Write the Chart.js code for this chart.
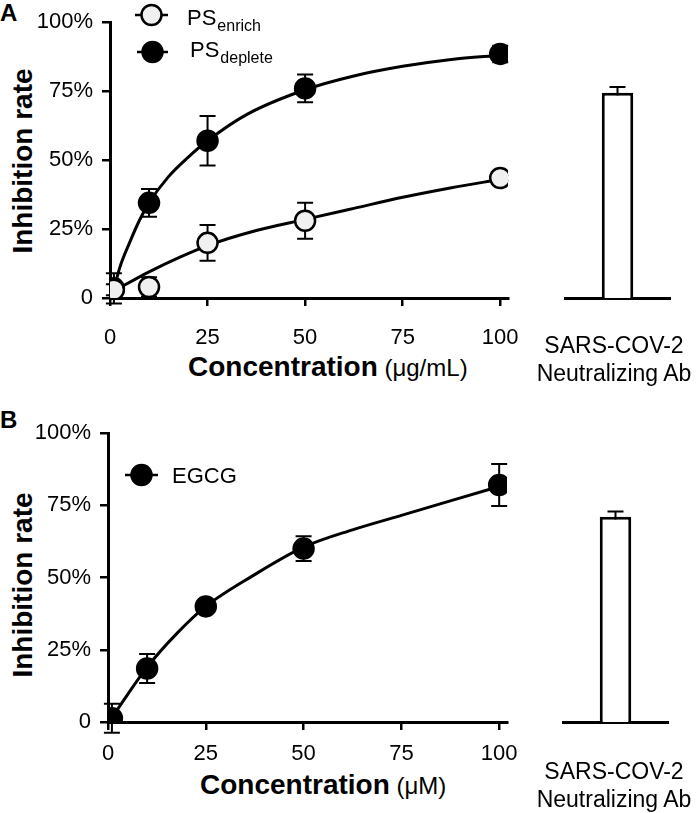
<!DOCTYPE html>
<html>
<head>
<meta charset="utf-8">
<script src="https://cdn.jsdelivr.net/npm/chart.js@4"></script>
<style>
  body { margin: 0; background: #fff; }
  #wrap { position: relative; width: 696px; height: 813px; background: #fff; font-family: 'Liberation Sans', Arial, sans-serif; color: #000; }
  canvas { position: absolute; }
  .lbl { position: absolute; line-height: 1; white-space: nowrap; }
  .ytitle { position: absolute; font-weight: bold; font-size: 28px; line-height: 1; white-space: nowrap; transform: translate(-50%, -50%) rotate(-90deg); }
  .panel { font-weight: bold; font-size: 24px; }
  .xt b { font-size: 28px; }
  .xt span { font-size: 24px; }
  .ab { position: absolute; font-size: 23px; line-height: 1; white-space: nowrap; transform: translateX(-50%); }
</style>
</head>
<body>
<div id="wrap">
  <div class="lbl panel" style="left:0;top:1px">A</div>
  <div class="lbl panel" style="left:0;top:408px">B</div>
  <div class="ytitle" style="left:23px;top:161px">Inhibition rate</div>
  <div class="ytitle" style="left:23px;top:585px">Inhibition rate</div>
  <div class="lbl xt" style="left:188px;top:353px"><b>Concentration</b><span> (μg/mL)</span></div>
  <div class="lbl xt" style="left:200px;top:771px"><b>Concentration</b><span> (μM)</span></div>
  <canvas id="scatterA" width="540" height="400" style="left:0;top:0"></canvas>
  <canvas id="barA" width="156" height="400" style="left:540px;top:0"></canvas>
  <canvas id="scatterB" width="540" height="413" style="left:0;top:400px"></canvas>
  <canvas id="barB" width="156" height="413" style="left:540px;top:400px"></canvas>
</div>
<script>
// ticks
const xTicks = [0, 25, 50, 75, 100];
const yTicks = [0, 25, 50, 75, 100];

// panel A: PS fractions
const concA = [1, 10, 25, 50, 100];
const enrichMean = [3, 4, 20, 28, 43.5];
const enrichErr = [2, 3.5, 6.5, 6.5, 1];
const depleteMean = [3.5, 34.5, 57, 76, 88.5];
const depleteErr = [5.5, 5, 9, 5, 3];
// fitted curves
const enrichFitX = [1, 10, 25, 37.5, 50, 62.5, 75, 87.5, 100];
const enrichFitY = [2.5, 9.5, 19, 24.5, 28.5, 32.5, 36.5, 40, 43];
const depleteFitX = [1, 2.5, 5, 7.5, 10, 15, 20, 25, 35, 50, 62.5, 75, 87.5, 100];
const depleteFitY = [3, 11, 20, 28, 34.5, 44, 51, 57, 66.5, 75.5, 80.5, 84, 86.5, 88];

// panel B: EGCG
const concB = [1, 10, 25, 50, 100];
const egcgMean = [1.3, 18.5, 40, 60, 82];
const egcgErr = [5, 5, 1.5, 4.3, 7.3];
const egcgFitX = [1, 5, 10, 17.5, 25, 37.5, 50, 62.5, 75, 87.5, 100];
const egcgFitY = [1.5, 9.5, 19, 30.5, 40, 51, 60.5, 66.5, 71.5, 76.5, 81.5];

// control antibody
const abLabels = ['SARS-COV-2', 'Neutralizing Ab'];
const abMeanA = [72];
const abErrA = [2];
const abMeanB = [71];
const abErrB = [1.8];

Chart.defaults.font.family = "'Liberation Sans', Arial, sans-serif";
Chart.defaults.color = '#000';

const pts = (xs, ys) => xs.map((x, i) => ({ x: x, y: ys[i] }));

// error bars, drawn under the markers
const errorBars = {
  id: 'errorBars',
  beforeDatasetsDraw(chart) {
    const ctx = chart.ctx;
    const ys = chart.scales.y;
    chart.data.datasets.forEach((ds, i) => {
      if (!ds.errors) return;
      const meta = chart.getDatasetMeta(i);
      ctx.save();
      ctx.strokeStyle = '#000';
      ctx.lineWidth = 2;
      meta.data.forEach((el, j) => {
        const d = ds.data[j];
        const v = typeof d === 'object' ? d.y : d;
        const e = ds.errors[j];
        const top = ys.getPixelForValue(v + e);
        const bot = ys.getPixelForValue(v - e);
        ctx.beginPath();
        ctx.moveTo(el.x, top); ctx.lineTo(el.x, bot);
        ctx.moveTo(el.x - 8, top); ctx.lineTo(el.x + 8, top);
        ctx.moveTo(el.x - 8, bot); ctx.lineTo(el.x + 8, bot);
        ctx.stroke();
      });
      ctx.restore();
    });
  }
};

// legend with subscripts
const subLegend = {
  id: 'subLegend',
  afterDraw(chart, args, opts) {
    if (!opts.rows) return;
    const ctx = chart.ctx;
    opts.rows.forEach(r => {
      ctx.save();
      ctx.strokeStyle = '#000';
      ctx.lineWidth = 2.5;
      ctx.beginPath();
      ctx.moveTo(r.x0, r.y); ctx.lineTo(r.x1, r.y);
      ctx.stroke();
      ctx.beginPath();
      ctx.arc((r.x0 + r.x1) / 2, r.y, 10, 0, Math.PI * 2);
      ctx.fillStyle = r.fill;
      ctx.fill();
      ctx.stroke();
      ctx.fillStyle = '#000';
      ctx.textBaseline = 'alphabetic';
      ctx.font = "22px 'Liberation Sans', Arial, sans-serif";
      ctx.fillText(r.main, r.tx, r.base);
      if (r.sub) {
        const w = ctx.measureText(r.main).width;
        ctx.font = "16px 'Liberation Sans', Arial, sans-serif";
        ctx.fillText(r.sub, r.tx + w + 1, r.base + 6);
      }
      ctx.restore();
    });
  }
};

function scatterChart(id, opt) {
  return new Chart(document.getElementById(id), {
    type: 'scatter',
    data: { datasets: opt.datasets },
    options: {
      responsive: false,
      animation: false,
      devicePixelRatio: 1,
      layout: { padding: { left: 0, top: opt.top, right: opt.right, bottom: 0 } },
      plugins: { legend: { display: false }, tooltip: { enabled: false }, subLegend: { rows: opt.legend } },
      scales: {
        x: {
          type: 'linear', min: 0, max: 102,
          afterBuildTicks: s => { s.ticks = xTicks.map(v => ({ value: v })); },
          afterFit: s => { s.height = opt.xHeight; },
          ticks: { font: { size: 22 }, padding: opt.xPad, maxRotation: 0 },
          grid: { drawOnChartArea: false, color: '#000', lineWidth: 2.5, tickLength: 8 },
          border: { color: '#000', width: 3 }
        },
        y: {
          min: 0, max: 100,
          afterBuildTicks: s => { s.ticks = yTicks.map(v => ({ value: v })); },
          afterFit: s => { s.width = opt.yWidth; },
          ticks: { font: { size: 22 }, padding: 9, callback: v => v === 0 ? '0' : v + '%' },
          grid: { drawOnChartArea: false, color: '#000', lineWidth: 2.5, tickLength: 8 },
          border: { color: '#000', width: 3 }
        }
      }
    },
    plugins: [errorBars, subLegend]
  });
}

function fitLine(xs, ys) {
  return { data: pts(xs, ys), showLine: true, pointRadius: 0, borderColor: '#000', borderWidth: 3, cubicInterpolationMode: 'monotone', order: 2 };
}
function markers(xs, ys, errs, fill) {
  return { data: pts(xs, ys), errors: errs, showLine: false, pointRadius: 10, pointBackgroundColor: fill, pointBorderColor: '#000', pointBorderWidth: 2.5, order: 1 };
}

scatterChart('scatterA', {
  top: 13, right: 32, xHeight: 102, yWidth: 110, xPad: 19,
  datasets: [
    markers(concA, enrichMean, enrichErr, '#f0f0f0'),
    markers(concA, depleteMean, depleteErr, '#000'),
    fitLine(enrichFitX, enrichFitY),
    fitLine(depleteFitX, depleteFitY)
  ],
  legend: [
    { x0: 135, x1: 168, y: 15, fill: '#f0f0f0', tx: 187, base: 25, main: 'PS', sub: 'enrich' },
    { x0: 137, x1: 168, y: 52, fill: '#000', tx: 190, base: 57, main: 'PS', sub: 'deplete' }
  ]
});

scatterChart('scatterB', {
  top: 33, right: 33, xHeight: 91, yWidth: 108, xPad: 11,
  datasets: [
    markers(concB, egcgMean, egcgErr, '#000'),
    fitLine(egcgFitX, egcgFitY)
  ],
  legend: [
    { x0: 125, x1: 158, y: 75, fill: '#000', tx: 172, base: 83, main: 'EGCG' }
  ]
});

function barChart(id, opt) {
  return new Chart(document.getElementById(id), {
    type: 'bar',
    data: {
      labels: [abLabels.join(' ')],
      datasets: [{
        data: opt.mean, errors: opt.err,
        backgroundColor: '#fff', borderColor: '#000', borderWidth: 3,
        barPercentage: 0.3, categoryPercentage: 1
      }]
    },
    options: {
      responsive: false,
      animation: false,
      devicePixelRatio: 1,
      layout: { padding: { left: opt.left, right: opt.right, top: opt.top, bottom: 0 } },
      plugins: { legend: { display: false }, tooltip: { enabled: false } },
      scales: {
        x: {
          afterFit: s => { s.height = opt.xHeight; },
          ticks: { display: false },
          grid: { display: false, drawTicks: false },
          border: { color: '#000', width: 3 }
        },
        y: { display: false, min: 0, max: 100 }
      }
    },
    plugins: [errorBars]
  });
}

barChart('barA', { mean: abMeanA, err: abErrA, left: 25, right: 26, top: 13, xHeight: 102 });
barChart('barB', { mean: abMeanB, err: abErrB, left: 23, right: 28, top: 33, xHeight: 91 });

// category label under each control bar
const wrap = document.getElementById('wrap');
[[334, 614], [760, 614]].forEach(([top, cx]) => {
  abLabels.forEach((t, i) => {
    const d = document.createElement('div');
    d.className = 'ab';
    d.style.left = cx + 'px';
    d.style.top = (top + i * 28) + 'px';
    d.textContent = t;
    wrap.appendChild(d);
  });
});
</script>
</body>
</html>
